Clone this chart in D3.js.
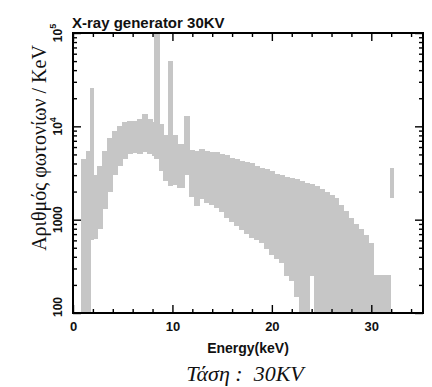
<!DOCTYPE html>
<html>
<head>
<meta charset="utf-8">
<script src="https://cdn.jsdelivr.net/npm/d3@7"></script>
<style>
  body { margin: 0; background: #fff; }
  svg { display: block; }
</style>
</head>
<body>
<div id="chart"></div>
<script>
// bin edges (keV) of the measured spectrum, one more than the bins
const binEdges = [0.8, 1.3, 1.75, 2.05, 2.4, 2.9, 3.4, 3.9, 4.4, 4.9,
  5.4, 5.9, 6.4, 6.9, 7.4, 7.9, 8.15, 8.6, 9.1, 9.55,
  9.95, 10.5, 11.2, 11.7, 12.2, 12.7, 13.2, 13.7, 14.2, 14.7,
  15.2, 15.7, 16.2, 16.7, 17.2, 17.7, 18.2, 18.7, 19.2, 19.7,
  20.2, 20.7, 21.2, 21.7, 22.2, 22.7, 23.2, 23.7, 24.2, 24.7,
  25.2, 25.7, 26.2, 26.7, 27.2, 27.7, 28.2, 28.7, 29.2, 29.7,
  30.2, 30.55, 30.65, 31.15, 31.25, 31.85, 32.15];

// lower edge of the grey band (photons / keV), null = empty bin
const bandLow = [50, 50, 600, 620, 800, 1300, 2000, 3000, 3800, 4500,
  5000, 5200, 5000, 5300, 5000, 4800, 4500, 3300, 2600, 2300,
  2350, 2200, 3000, 1750, 1400, 1650, 1500, 1450, 1350, 1200,
  1050, 950, 850, 780, 700, 640, 600, 560, 480, 420,
  380, 340, 250, 220, 150, 90, 60, 250, 60, 60,
  60, 60, 60, 60, 60, 60, 60, 60, 60, 60,
  60, null, 60, null, 60, 1700];

// upper edge of the grey band
const bandHigh = [4500, 5500, 26000, 3000, 3800, 5500, 7500, 9000, 10000, 11000,
  11500, 11500, 12000, 13500, 12000, 11000, 100000, 10500, 8000, 50000,
  8100, 6500, 13000, 5600, 5500, 5700, 5400, 5300, 5300, 5000,
  4900, 4600, 4500, 4300, 4100, 4000, 3800, 3600, 3500, 3300,
  3100, 3000, 2900, 2800, 2700, 2600, 2500, 2400, 2300, 2150,
  2000, 1850, 1700, 1450, 1250, 1050, 900, 800, 680, 560,
  255, null, 255, null, 255, 3600];

const xMajor = [0, 10, 20, 30];
const xMinor = [2, 4, 6, 8, 12, 14, 16, 18, 22, 24, 26, 28, 32, 34];
const yMajor = [100, 1000, 10000, 100000];
const yLabels = [['100', ''], ['1000', ''], ['10', '4'], ['10', '5']];
const yMinor = [200, 300, 400, 500, 600, 700, 800, 900,
  2000, 3000, 4000, 5000, 6000, 7000, 8000, 9000,
  20000, 30000, 40000, 50000, 60000, 70000, 80000, 90000];

const titleText = 'X-ray generator 30KV';
const xTitle = 'Energy(keV)';
const yTitle = 'Αριθμός φωτονίων / KeV';
const caption = 'Τάση :  30KV';

const width = 432, height = 387;
const plot = { left: 73, right: 423, top: 33, bottom: 313 };

const svg = d3.select('#chart').append('svg')
  .attr('width', width)
  .attr('height', height);

const x = d3.scaleLinear().domain([0, 35.2]).range([plot.left, plot.right]);
const y = d3.scaleLog().domain([100, 1e5]).range([plot.bottom, plot.top]).clamp(true);

// spectrum band
const bins = bandLow.map((lo, i) => ({ e0: binEdges[i], e1: binEdges[i + 1], lo: lo, hi: bandHigh[i] }))
  .filter(d => d.lo !== null);

svg.append('g')
  .attr('shape-rendering', 'crispEdges')
  .selectAll('rect')
  .data(bins)
  .enter().append('rect')
  .attr('x', d => x(d.e0))
  .attr('width', d => x(d.e1) - x(d.e0) + 1)
  .attr('y', d => y(d.hi))
  .attr('height', d => y(d.lo) - y(d.hi))
  .attr('fill', '#c6c6c6');

// ticks, all pointing into the frame
function styleAxis(g) {
  g.select('.domain').remove();
  g.selectAll('.tick line').attr('stroke', '#000').attr('stroke-width', 1.4);
}

svg.append('g').attr('transform', 'translate(0,' + plot.bottom + ')')
  .call(d3.axisBottom(x).tickValues(xMajor).tickSize(-8).tickPadding(9))
  .call(styleAxis)
  .call(g => g.selectAll('text')
    .attr('font-family', 'Liberation Sans, Arial, sans-serif')
    .attr('font-weight', 'bold')
    .attr('font-size', 13)
    .attr('fill', '#111'));
svg.append('g').attr('transform', 'translate(0,' + plot.bottom + ')')
  .call(d3.axisBottom(x).tickValues(xMinor).tickSize(-4).tickFormat(''))
  .call(styleAxis);
svg.append('g').attr('transform', 'translate(0,' + plot.top + ')')
  .call(d3.axisTop(x).tickValues(xMajor).tickSize(-8).tickFormat(''))
  .call(styleAxis);
svg.append('g').attr('transform', 'translate(0,' + plot.top + ')')
  .call(d3.axisTop(x).tickValues(xMinor).tickSize(-4).tickFormat(''))
  .call(styleAxis);

svg.append('g').attr('transform', 'translate(' + plot.left + ',0)')
  .call(d3.axisLeft(y).tickValues(yMajor).tickSize(-8).tickFormat(''))
  .call(styleAxis);
svg.append('g').attr('transform', 'translate(' + plot.left + ',0)')
  .call(d3.axisLeft(y).tickValues(yMinor).tickSize(-4).tickFormat(''))
  .call(styleAxis);
svg.append('g').attr('transform', 'translate(' + plot.right + ',0)')
  .call(d3.axisRight(y).tickValues(yMajor).tickSize(-8).tickFormat(''))
  .call(styleAxis);
svg.append('g').attr('transform', 'translate(' + plot.right + ',0)')
  .call(d3.axisRight(y).tickValues(yMinor).tickSize(-4).tickFormat(''))
  .call(styleAxis);

// rotated y tick labels
const yLab = svg.append('g')
  .attr('font-family', 'Liberation Sans, Arial, sans-serif')
  .attr('font-weight', 'bold')
  .attr('font-size', 12)
  .attr('fill', '#111');
yMajor.forEach((v, i) => {
  const cy = i === 0 ? y(v) - 6 : y(v);
  const t = yLab.append('text')
    .attr('transform', 'translate(62,' + cy + ') rotate(-90)')
    .attr('text-anchor', 'middle');
  t.append('tspan').text(yLabels[i][0]);
  if (yLabels[i][1]) {
    t.append('tspan').attr('dy', -6).attr('font-size', 9).text(yLabels[i][1]);
  }
});

// frame
svg.append('rect')
  .attr('x', plot.left).attr('y', plot.top)
  .attr('width', plot.right - plot.left).attr('height', plot.bottom - plot.top)
  .attr('fill', 'none').attr('stroke', '#000').attr('stroke-width', 2);

// titles
svg.append('text')
  .attr('x', 72).attr('y', 28)
  .attr('font-family', 'Liberation Sans, Arial, sans-serif')
  .attr('font-weight', 'bold').attr('font-size', 15)
  .attr('fill', '#111')
  .text(titleText);

svg.append('text')
  .attr('x', 248).attr('y', 353)
  .attr('text-anchor', 'middle')
  .attr('font-family', 'Liberation Sans, Arial, sans-serif')
  .attr('font-weight', 'bold').attr('font-size', 14)
  .attr('fill', '#111')
  .text(xTitle);

svg.append('text')
  .attr('transform', 'translate(46,148) rotate(-90)')
  .attr('text-anchor', 'middle')
  .attr('font-family', 'Liberation Serif, Times New Roman, serif')
  .attr('font-size', 20)
  .attr('fill', '#111')
  .text(yTitle);

svg.append('text')
  .attr('x', 245).attr('y', 381)
  .attr('text-anchor', 'middle')
  .attr('font-family', 'Liberation Serif, Times New Roman, serif')
  .attr('font-style', 'italic').attr('font-size', 22)
  .style('white-space', 'pre')
  .attr('fill', '#111')
  .text(caption);
</script>
</body>
</html>
